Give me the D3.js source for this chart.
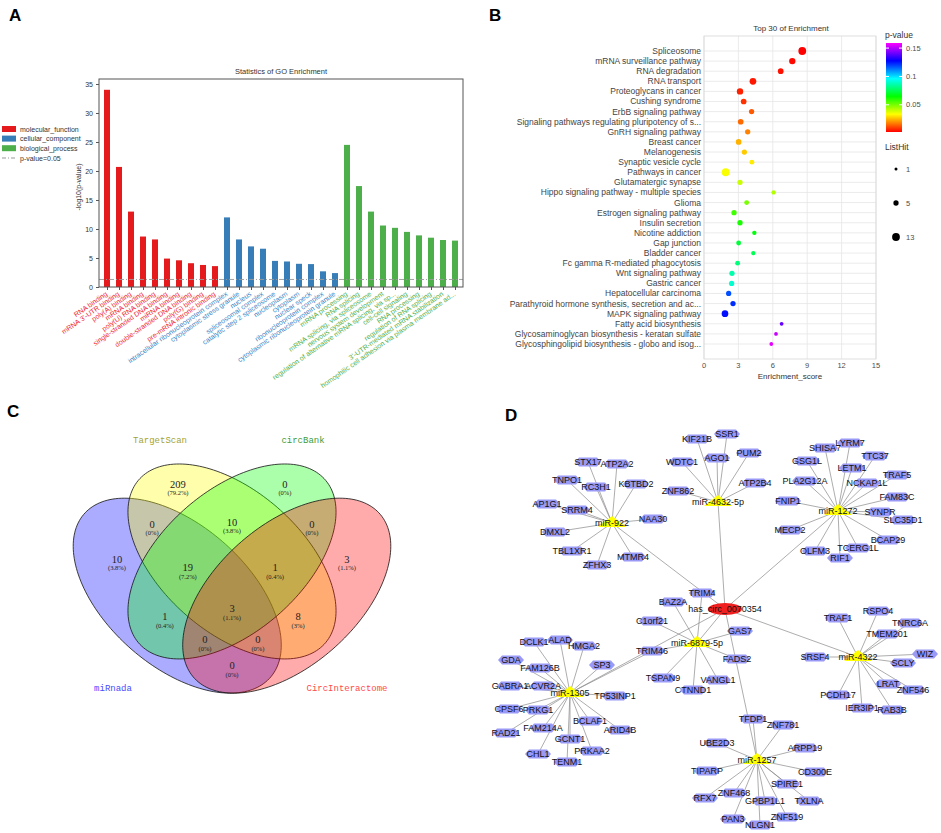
<!DOCTYPE html>
<html>
<head>
<meta charset="utf-8">
<script src="https://cdn.jsdelivr.net/npm/d3@7"></script>
<style>
body { margin: 0; background: #fff; }
svg { display: block; font-family: "Liberation Sans", Arial, sans-serif; }
</style>
</head>
<body>
<div id="canvas"></div>
<script>
// ---- Panel A: GO enrichment ----
const mfTerms = ["RNA binding", "mRNA 3'-UTR binding", "poly(A) binding", "mRNA binding", "poly(U) RNA binding",
    "single-stranded DNA binding", "miRNA binding", "double-stranded DNA binding", "poly(G) binding", "pre-mRNA intronic binding"];
const mfValues = [34, 20.7, 13, 8.7, 8.2, 4.9, 4.6, 4.1, 3.8, 3.6];
const ccTerms = ["intracellular ribonucleoprotein complex", "cytoplasmic stress granule", "nucleus", "spliceosomal complex",
    "catalytic step 2 spliceosome", "nucleoplasm", "cytoplasm", "nuclear speck", "ribonucleoprotein complex",
    "cytoplasmic ribonucleoprotein granule"];
const ccValues = [12, 8.2, 7.0, 6.6, 4.5, 4.4, 4.0, 3.95, 2.7, 2.4];
const bpTerms = ["mRNA processing", "RNA splicing", "mRNA splicing, via spliceosome", "nervous system development",
    "regulation of alternative mRNA splicing, via sp...", "cell-cell signaling", "RNA processing",
    "regulation of RNA splicing", "3'-UTR-mediated mRNA stabilization", "homophilic cell adhesion via plasma membrane ad..."];
const bpValues = [24.5, 17.4, 13, 10.6, 10.2, 9.5, 8.9, 8.5, 8.1, 8.0];
const goCategories = ["molecular_function", "cellular_component", "biological_process"];
const goTicks = [0, 5, 10, 15, 20, 25, 30, 35];
const pCutoff = 1.3;

// ---- Panel B: KEGG top 30 ----
const keggTerms = ["Spliceosome", "mRNA surveillance pathway", "RNA degradation", "RNA transport", "Proteoglycans in cancer",
    "Cushing syndrome", "ErbB signaling pathway", "Signaling pathways regulating pluripotency of s...", "GnRH signaling pathway",
    "Breast cancer", "Melanogenesis", "Synaptic vesicle cycle", "Pathways in cancer", "Glutamatergic synapse",
    "Hippo signaling pathway - multiple species", "Glioma", "Estrogen signaling pathway", "Insulin secretion",
    "Nicotine addiction", "Gap junction", "Bladder cancer", "Fc gamma R-mediated phagocytosis", "Wnt signaling pathway",
    "Gastric cancer", "Hepatocellular carcinoma", "Parathyroid hormone synthesis, secretion and ac...",
    "MAPK signaling pathway", "Fatty acid biosynthesis", "Glycosaminoglycan biosynthesis - keratan sulfate",
    "Glycosphingolipid biosynthesis - globo and isog..."];
const keggScores = [8.57, 7.7, 6.69, 4.27, 3.14, 3.46, 4.15, 3.2, 3.81, 3.02, 3.52, 4.18, 1.89, 3.14, 6.07,
    3.72, 2.62, 3.14, 4.39, 3.02, 4.3, 2.93, 2.44, 2.41, 2.15, 2.53, 1.83, 6.77, 6.28, 5.87];
const keggPvalues = [0.002, 0.003, 0.004, 0.005, 0.006, 0.008, 0.013, 0.015, 0.018, 0.024, 0.027, 0.031, 0.034, 0.04, 0.043,
    0.05, 0.057, 0.062, 0.066, 0.072, 0.075, 0.08, 0.086, 0.09, 0.118, 0.122, 0.126, 0.14, 0.152, 0.156];
const keggHits = [13, 8, 6, 9, 8, 6, 5, 6, 5, 6, 5, 4, 13, 5, 3, 4, 5, 5, 3, 4, 3, 4, 5, 5, 5, 5, 9, 2, 2, 2];
const scoreTicks = [0, 3, 6, 9, 12, 15];
const pLegendTicks = [0.05, 0.1, 0.15];
const hitLegend = [1, 5, 13];

// ---- Panel C: Venn ----
const vennSets = ["TargetScan", "circBank", "miRnada", "CircInteractome"];
const vennCounts = [209, 0, 0, 10, 0, 10, 19, 1, 3, 1, 3, 8, 0, 0, 0];

// ---- Panel D: network ----
const circRNA = "has_circ_0070354";
const mirnas = ["miR-922", "miR-4632-5p", "miR-1272", "miR-6879-5p", "miR-4322", "miR-1305", "miR-1257"];
const targets922 = ["STX17", "ATP2A2", "TNPO1", "RC3H1", "KBTBD2", "AP1G1", "SRRM4", "NAA30", "DMXL2", "TBL1XR1", "ZFHX3", "MTMR4"];
const targets4632 = ["KIF21B", "SSR1", "WDTC1", "AGO1", "PUM2", "ATP2B4", "ZNF862"];
const targets1272 = ["SHISA7", "LYRM7", "GSG1L", "TTC37", "LETM1", "TRAF5", "PLA2G12A", "NCKAP1L", "FAM83C", "FNIP1",
    "SYNPR", "SLC35D1", "MECP2", "BCAP29", "TCERG1L", "OLFM3", "RIF1"];
const targets6879 = ["TRIM4", "BAZ2A", "C1orf21", "GAS7", "TRIM46", "FADS2", "TSPAN9", "VANGL1", "CTNND1"];
const targets4322 = ["TRAF1", "RSPO4", "TNRC6A", "TMEM201", "SRSF4", "WIZ", "SCLY", "LRAT", "ZNF546", "PCDH17", "IER3IP1", "RAB3B"];
const targets1305 = ["DCLK1", "ALAD", "HMGA2", "GDA", "FAM126B", "SP3", "GABRA1", "ACVR2A", "TP53INP1", "CPSF6", "PRKG1",
    "BCLAF1", "ARID4B", "RAD21", "FAM214A", "GCNT1", "PRKAA2", "CHL1", "TENM1"];
const targets1257 = ["TFDP1", "ZNF781", "UBE2D3", "ARPP19", "TIPARP", "CD300E", "SPIRE1", "ZNF468", "RFX7", "GPBP1L1",
    "TXLNA", "ZNF519", "PAN3", "NLGN1"];
const extraLinks = [["miR-1305", "TRIM46"]];

// ---- layout (positions only) ----
const vennLabelPos = [[0.352, 0.796], [0.645, 0.796], [0.281, 0.679], [0.5, 0.685], [0.719, 0.679], [0.185, 0.577],
    [0.379, 0.551], [0.618, 0.551], [0.815, 0.577], [0.316, 0.408], [0.5, 0.432], [0.681, 0.408], [0.426, 0.341],
    [0.571, 0.341], [0.5, 0.265]];
const circPos = [725, 609];
const mirPos = [[612, 523], [718, 502], [838, 511], [697, 643], [858, 657], [570, 693], [757, 760]];
const mirOffsets = [
    [[-24,-61],[5,-59],[-45,-43],[-16,-36],[24,-39],[-65,-19],[-35,-13],[41,-4],[-57,9],[-40,28],[-15,42],[21,34]],
    [[-21,-63],[9,-68],[-36,-40],[-1,-44],[31,-49],[37,-19],[-40,-11]],
    [[-13,-63],[12,-68],[-31,-50],[37,-55],[14,-43],[59,-36],[-33,-30],[29,-28],[59,-14],[-50,-10],[42,1],[65,9],
     [-48,19],[50,29],[20,37],[-23,40],[2,47]],
    [[5,-50],[-24,-41],[-45,-22],[43,-12],[-45,8],[40,16],[-34,35],[21,37],[-4,47]],
    [[-20,-39],[20,-46],[52,-34],[29,-23],[-43,0],[67,-3],[45,6],[30,27],[55,33],[-20,38],[4,51],[34,53]],
    [[-36,-51],[-10,-53],[14,-47],[-59,-33],[-30,-25],[32,-28],[-60,-7],[-27,-7],[45,3],[-61,16],[-32,17],[20,28],
     [50,37],[-64,40],[-27,35],[0,46],[22,58],[-32,61],[-3,69]],
    [[-4,-41],[26,-35],[-40,-17],[48,-12],[-50,11],[58,12],[30,24],[-23,33],[-52,38],[8,41],[52,41],[30,57],[-24,59],[3,65]]
];

const svg = d3.select("#canvas").append("svg").attr("width", 941).attr("height", 833);

// panel letters
[["A", 9, 21], ["B", 489, 21], ["C", 7, 417], ["D", 505, 421]].forEach(p => {
    svg.append("text").attr("x", p[1]).attr("y", p[2]).attr("font-size", 17).attr("font-weight", "bold").text(p[0]);
});

// ================= Panel A =================
const goColors = ["#e41a1c", "#377eb8", "#4daf4a"];
const labelColors = ["#f0262f", "#3a7fc4", "#4daf4a"];
const goRows = [];
[[mfTerms, mfValues], [ccTerms, ccValues], [bpTerms, bpValues]].forEach((s, c) => {
    s[0].forEach((t, i) => goRows.push({ term: t, value: s[1][i], cat: c }));
});

const gA = svg.append("g");
const xA = d3.scalePoint().domain(d3.range(goRows.length)).range([107, 455]);
const yA = d3.scaleLinear().domain([0, 35.86]).range([287, 79]);

gA.append("text").attr("x", 281).attr("y", 74).attr("text-anchor", "middle")
    .attr("font-size", 7.5).attr("fill", "#333").text("Statistics of GO Enrichment");

gA.selectAll("rect.bar").data(goRows).enter().append("rect")
    .attr("class", "bar")
    .attr("x", (d, i) => xA(i) - 3)
    .attr("width", 6)
    .attr("y", d => yA(d.value))
    .attr("height", d => yA(0) - yA(d.value))
    .attr("fill", d => goColors[d.cat]);

gA.append("line").attr("x1", 99).attr("x2", 463).attr("y1", yA(pCutoff)).attr("y2", yA(pCutoff))
    .attr("stroke", "#999").attr("stroke-width", 0.9).attr("stroke-dasharray", "5,2,1,2");

gA.append("rect").attr("x", 99).attr("y", 79).attr("width", 364).attr("height", 208)
    .attr("fill", "none").attr("stroke", "#555").attr("stroke-width", 1);

const yAxisA = gA.append("g").attr("transform", "translate(99,0)")
    .call(d3.axisLeft(yA).tickValues(goTicks).tickSize(3).tickSizeOuter(0));
yAxisA.select(".domain").remove();
yAxisA.selectAll("text").attr("font-size", 7).attr("fill", "#333");
yAxisA.selectAll("line").attr("stroke", "#555");

const xAxisA = gA.append("g").attr("transform", "translate(0,287)")
    .call(d3.axisBottom(xA).tickSize(3).tickFormat(""));
xAxisA.select(".domain").remove();
xAxisA.selectAll("line").attr("stroke", "#555");

gA.selectAll("text.term").data(goRows).enter().append("text")
    .attr("class", "term")
    .attr("transform", (d, i) => `translate(${xA(i) + 1},${295}) rotate(-35)`)
    .attr("text-anchor", "end")
    .attr("font-size", 7)
    .attr("fill", d => labelColors[d.cat])
    .text(d => d.term);

gA.append("text").attr("transform", "translate(81,187) rotate(-90)").attr("text-anchor", "middle")
    .attr("font-size", 7).attr("fill", "#333").text("-log10(p-value)");

goCategories.forEach((c, i) => {
    gA.append("rect").attr("x", 2).attr("y", 126 + i * 9.6).attr("width", 14).attr("height", 6).attr("fill", goColors[i]);
    gA.append("text").attr("x", 20).attr("y", 131.5 + i * 9.6).attr("font-size", 7).attr("fill", "#333").text(c);
});
gA.append("line").attr("x1", 2).attr("x2", 16).attr("y1", 158).attr("y2", 158)
    .attr("stroke", "#999").attr("stroke-dasharray", "4,2,1,2");
gA.append("text").attr("x", 20).attr("y", 160.5).attr("font-size", 7).attr("fill", "#333").text("p-value=0.05");

// ================= Panel B =================
const gB = svg.append("g");
const xB = d3.scaleLinear().domain([0, 15]).range([704, 876]);
const yB = d3.scalePoint().domain(keggTerms).range([51, 344]);
const pMin = 0.002, pMax = 0.159;
const pStops = d3.range(6).map(i => pMin + (pMax - pMin) * i / 5);
const colorB = d3.scaleLinear().domain(pStops)
    .range(["#ff0000", "#ffff00", "#00ff00", "#00ffff", "#0000ff", "#ff00ff"]).clamp(true);
const rB = d3.scaleSqrt().domain([1, 13]).range([1.5, 3.9]);

gB.append("text").attr("x", 791).attr("y", 31).attr("text-anchor", "middle")
    .attr("font-size", 8).attr("fill", "#333").text("Top 30 of  Enrichment");

gB.selectAll("line.hgrid").data(keggTerms).enter().append("line")
    .attr("x1", 704).attr("x2", 876).attr("y1", d => yB(d)).attr("y2", d => yB(d))
    .attr("stroke", "#e6e6e6").attr("stroke-width", 0.8);
gB.selectAll("line.vgrid").data(scoreTicks).enter().append("line")
    .attr("x1", d => xB(d)).attr("x2", d => xB(d)).attr("y1", 36).attr("y2", 359)
    .attr("stroke", "#e6e6e6").attr("stroke-width", 0.8);
gB.append("rect").attr("x", 704).attr("y", 36).attr("width", 172).attr("height", 323)
    .attr("fill", "none").attr("stroke", "#d6d6d6").attr("stroke-width", 0.8);

gB.selectAll("circle.dot").data(keggTerms).enter().append("circle")
    .attr("cx", (d, i) => xB(keggScores[i]))
    .attr("cy", d => yB(d))
    .attr("r", (d, i) => rB(keggHits[i]))
    .attr("fill", (d, i) => colorB(keggPvalues[i]));

gB.selectAll("text.kterm").data(keggTerms).enter().append("text")
    .attr("x", 701).attr("y", d => yB(d)).attr("dy", "0.35em")
    .attr("text-anchor", "end").attr("font-size", 8.5).attr("fill", "#444").text(d => d);

gB.selectAll("text.xt").data(scoreTicks).enter().append("text")
    .attr("x", d => xB(d)).attr("y", 368).attr("text-anchor", "middle")
    .attr("font-size", 7.5).attr("fill", "#4d4d4d").text(d => d);
gB.append("text").attr("x", 790).attr("y", 379).attr("text-anchor", "middle")
    .attr("font-size", 8).attr("fill", "#333").text("Enrichment_score");

// colour bar
const grad = svg.append("defs").append("linearGradient").attr("id", "pgrad")
    .attr("x1", 0).attr("x2", 0).attr("y1", 1).attr("y2", 0);
pStops.forEach((p, i) => grad.append("stop").attr("offset", i / 5).attr("stop-color", colorB(p)));
const pLeg = d3.scaleLinear().domain([pMin, pMax]).range([132, 43]);
gB.append("text").attr("x", 885).attr("y", 38).attr("font-size", 8.5).attr("fill", "#333").text("p-value");
gB.append("rect").attr("x", 886).attr("y", 43).attr("width", 16).attr("height", 89).attr("fill", "url(#pgrad)");
pLegendTicks.forEach(t => {
    gB.append("line").attr("x1", 886).attr("x2", 889).attr("y1", pLeg(t)).attr("y2", pLeg(t)).attr("stroke", "#fff");
    gB.append("line").attr("x1", 899).attr("x2", 902).attr("y1", pLeg(t)).attr("y2", pLeg(t)).attr("stroke", "#fff");
    gB.append("text").attr("x", 906).attr("y", pLeg(t)).attr("dy", "0.35em").attr("font-size", 7.5)
        .attr("fill", "#4d4d4d").text(t);
});
gB.append("text").attr("x", 885).attr("y", 150).attr("font-size", 8.5).attr("fill", "#333").text("ListHit");
hitLegend.forEach((h, i) => {
    const cy = 169 + i * 34;
    gB.append("circle").attr("cx", 896).attr("cy", cy).attr("r", rB(h)).attr("fill", "#000");
    gB.append("text").attr("x", 906).attr("y", cy).attr("dy", "0.35em").attr("font-size", 7.5)
        .attr("fill", "#4d4d4d").text(h);
});

// ================= Panel C =================
const gC = svg.append("g");
const vx = d3.scaleLinear().domain([0, 1]).range([49.5, 414.5]);
const vy = d3.scaleLinear().domain([0, 1]).range([756.4, 414.4]);
const vennShapes = [
    { cx: 0.35, cy: 0.47, rot: 135, fill: "#0000ff" },
    { cx: 0.50, cy: 0.57, rot: 135, fill: "#ffff00" },
    { cx: 0.50, cy: 0.57, rot: 45, fill: "#00ff00" },
    { cx: 0.65, cy: 0.47, rot: 45, fill: "#ff0000" }
];
const ellA = 0.35, ellB = 0.20;
const ellLine = d3.line().x(p => vx(p[0])).y(p => vy(p[1])).curve(d3.curveLinearClosed);
vennShapes.forEach(s => {
    const th = s.rot * Math.PI / 180;
    const pts = d3.range(0, 360, 2).map(a => {
        const t = a * Math.PI / 180;
        return [s.cx + ellA * Math.cos(t) * Math.cos(th) - ellB * Math.sin(t) * Math.sin(th),
                s.cy + ellA * Math.cos(t) * Math.sin(th) + ellB * Math.sin(t) * Math.cos(th)];
    });
    gC.append("path").attr("d", ellLine(pts)).attr("fill", s.fill).attr("fill-opacity", 0.33)
        .attr("stroke", "#111").attr("stroke-width", 0.8);
});
const vennTotal = d3.sum(vennCounts);
const pct = v => (Math.round(v / vennTotal * 1000) / 10) + "%";
vennCounts.forEach((v, i) => {
    const p = vennLabelPos[i];
    gC.append("text").attr("x", vx(p[0])).attr("y", vy(p[1]) + 3.5).attr("text-anchor", "middle")
        .attr("font-family", "'Liberation Serif', serif").attr("font-size", 10.5).attr("fill", "#222").text(v);
    gC.append("text").attr("x", vx(p[0])).attr("y", vy(p[1]) + 11).attr("text-anchor", "middle")
        .attr("font-family", "'Liberation Serif', serif").attr("font-size", 6.5).attr("fill", "#222").text("(" + pct(v) + ")");
});
const setLabelPos = [[160, 443], [303, 443], [113, 691], [347, 691]];
const setLabelColors = ["#a3a332", "#3c9c3c", "#4a4aff", "#ff4a4a"];
vennSets.forEach((s, i) => {
    gC.append("text").attr("x", setLabelPos[i][0]).attr("y", setLabelPos[i][1]).attr("text-anchor", "middle")
        .attr("font-family", "'Liberation Mono', monospace").attr("font-size", 9)
        .attr("fill", setLabelColors[i]).text(s);
});

// ================= Panel D =================
const gD = svg.append("g");
const targetLists = [targets922, targets4632, targets1272, targets6879, targets4322, targets1305, targets1257];
const nodes = {};
const links = [];
nodes[circRNA] = { x: circPos[0], y: circPos[1], type: "circ" };
mirnas.forEach((m, i) => {
    nodes[m] = { x: mirPos[i][0], y: mirPos[i][1], type: "mir" };
    links.push([circRNA, m]);
    targetLists[i].forEach((t, j) => {
        nodes[t] = { x: mirPos[i][0] + mirOffsets[i][j][0], y: mirPos[i][1] + mirOffsets[i][j][1], type: "gene" };
        links.push([m, t]);
    });
});
extraLinks.forEach(l => links.push(l));

gD.selectAll("line.edge").data(links).enter().append("line")
    .attr("x1", d => nodes[d[0]].x).attr("y1", d => nodes[d[0]].y)
    .attr("x2", d => nodes[d[1]].x).attr("y2", d => nodes[d[1]].y)
    .attr("stroke", "#8a8a8a").attr("stroke-width", 0.7);

const nodeList = Object.keys(nodes).map(k => Object.assign({ id: k }, nodes[k]));
const genes = nodeList.filter(n => n.type === "gene");
gD.selectAll("path.gene").data(genes).enter().append("path")
    .attr("d", "M-13,0L-9,-4.5L9,-4.5L13,0L9,4.5L-9,4.5Z")
    .attr("transform", d => `translate(${d.x},${d.y})`)
    .attr("fill", "#9a9af6");
gD.selectAll("path.mir").data(nodeList.filter(n => n.type === "mir")).enter().append("path")
    .attr("d", "M0,-7L14,4L-14,4Z")
    .attr("transform", d => `translate(${d.x},${d.y})`)
    .attr("fill", "#ffff00");
gD.append("ellipse").attr("cx", circPos[0]).attr("cy", circPos[1]).attr("rx", 17).attr("ry", 6).attr("fill", "#f02020");

gD.selectAll("text.nlabel").data(nodeList).enter().append("text")
    .attr("x", d => d.x).attr("y", d => d.y).attr("dy", "0.35em")
    .attr("text-anchor", "middle").attr("font-size", 9).attr("fill", "#111")
    .text(d => d.id);
</script>
</body>
</html>
